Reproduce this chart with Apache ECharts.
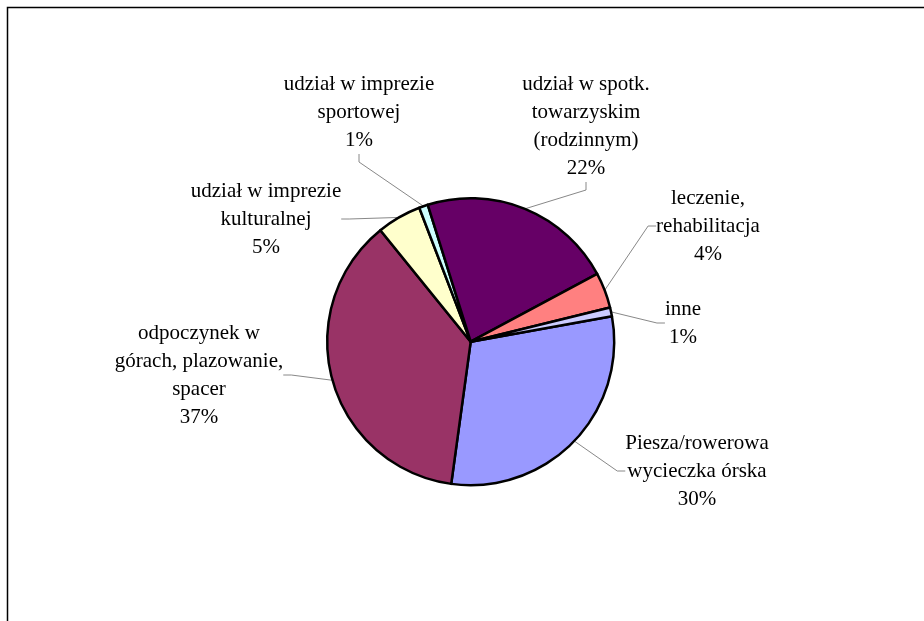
<!DOCTYPE html>
<html>
<head>
<meta charset="utf-8">
<script src="https://cdn.jsdelivr.net/npm/echarts@6/dist/echarts.min.js"></script>
<style>
  html, body { margin: 0; padding: 0; background: #fff; }
  #chart { width: 924px; height: 621px; }
</style>
</head>
<body>
<div id="chart"></div>
<script>
// Categories (clockwise order, starting just above 3 o'clock)
const categories = [
  'Piesza/rowerowa\nwycieczka órska',
  'odpoczynek w\ngórach, plazowanie,\nspacer',
  'udział w imprezie\nkulturalnej',
  'udział w imprezie\nsportowej',
  'udział w spotk.\ntowarzyskim\n(rodzinnym)',
  'leczenie,\nrehabilitacja',
  'inne'
];
// Share values (percent)
const values = [30, 37, 5, 1, 22, 4, 1];
// Slice colours
const colors = ['#9999FF', '#993366', '#FFFFCC', '#CCFFFF', '#660066', '#FF8080', '#CCCCFF'];

// Label centres (layout only)
const labelCenters = [
  [697, 471],
  [199, 375],
  [266, 219],
  [359, 112],
  [586, 126],
  [708, 226],
  [683, 323]
];

const chart = echarts.init(document.getElementById('chart'), null, { renderer: 'canvas' });

const option = {
  animation: false,
  backgroundColor: '#ffffff',
  graphic: [{
    type: 'rect',
    shape: { x: 7.5, y: 7.5, width: 1200, height: 1200 },
    style: { fill: 'none', stroke: '#000', lineWidth: 1.5 },
    silent: true,
    z: 100
  }],
  series: [{
    type: 'pie',
    center: [470.7, 341.7],
    radius: [0, 143.5],
    startAngle: 10.2,
    clockwise: true,
    percentPrecision: 0,
    avoidLabelOverlap: false,
    data: categories.map((name, i) => ({
      name: name,
      value: values[i],
      itemStyle: { color: colors[i] }
    })),
    itemStyle: { borderColor: '#000', borderWidth: 2.5 },
    emphasis: { disabled: true },
    label: {
      show: true,
      position: 'outside',
      formatter: '{b}\n{d}%',
      fontFamily: 'Liberation Serif',
      fontSize: 21,
      lineHeight: 28,
      color: '#000',
      align: 'center'
    },
    labelLine: {
      show: true,
      length: 10,
      length2: 8,
      minTurnAngle: 0,
      smooth: false,
      lineStyle: { color: '#888', width: 1 }
    },
    labelLayout: function (params) {
      const p = labelCenters[params.dataIndex];
      return { x: p[0], y: p[1], align: 'center', verticalAlign: 'middle', moveOverlap: false };
    }
  }]
};

chart.setOption(option);
</script>
</body>
</html>
